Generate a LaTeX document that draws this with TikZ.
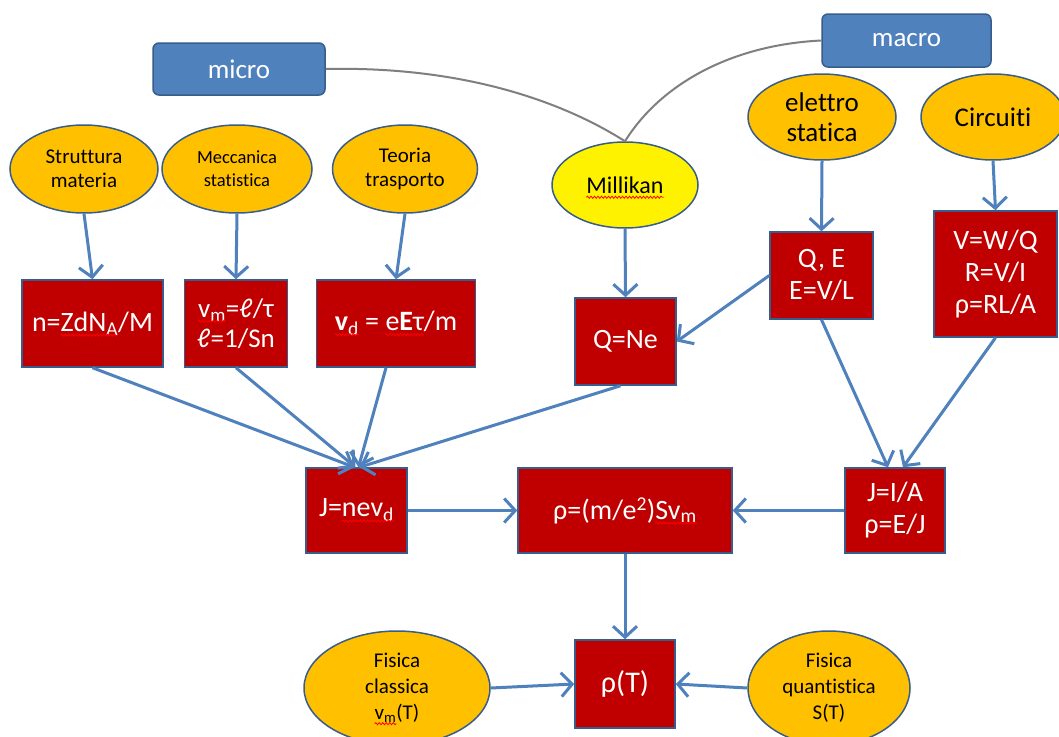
\documentclass[tikz,border=0pt]{standalone}
\usepackage{fontspec}
\setmainfont{Carlito}[Ligatures={NoCommon}]
\usetikzlibrary{arrows.meta,shapes.geometric,decorations.pathmorphing}

\definecolor{boxred}{HTML}{C00000}
\definecolor{edgeblue}{HTML}{385D8A}
\definecolor{arrowblue}{HTML}{4F81BD}
\definecolor{topicorange}{HTML}{FFC000}
\definecolor{curvegray}{HTML}{7F7F7F}

% red wavy underline (spell-check style)
\newdimen\spellw
\newcommand\spellmark[1]{\setbox0=\hbox{#1}\spellw=\wd0\leavevmode\rlap{\usebox0}%
  \tikz[baseline=0pt,x=1pt,y=1pt]{\useasboundingbox (0pt,0pt) rectangle (\spellw,0pt);
    \draw[red,line width=0.8pt,decorate,decoration={snake,amplitude=1pt,segment length=3.5pt}]
      (0pt,-4pt) -- (\spellw,-4pt);}}

\tikzset{
  formula/.style={rectangle, draw=edgeblue, line width=1.5pt, fill=boxred,
    text=white, inner sep=0pt, align=center, font=\fontsize{28}{32}\selectfont},
  topic/.style={ellipse, draw=edgeblue, line width=1.5pt, fill=topicorange,
    text=black, inner sep=0pt, align=center, font=\fontsize{21}{24}\selectfont},
  scalelabel/.style={rectangle, rounded corners=6pt, draw=edgeblue, line width=1.5pt,
    fill=arrowblue, text=white, inner sep=0pt, font=\fontsize{27}{30}\selectfont},
  flow/.style={draw=arrowblue, line width=3pt,
    -{Straight Barb[length=11pt,width=24pt,line width=3pt]}},
  link/.style={draw=curvegray, line width=2pt},
}

\begin{document}
\begin{tikzpicture}[x=1pt,y=-1pt]
\useasboundingbox[fill=white] (0,0) rectangle (1059,736);

% scale labels
\node[scalelabel, minimum width=172pt, minimum height=52pt] (micro) at (239,69) {micro};
\node[scalelabel, minimum width=169pt, minimum height=53pt] (macro) at (906.5,40.5) {macro};

% topics
\node[topic, minimum width=148pt, minimum height=88pt] (strut) at (84,169) {Struttura\\materia};
\node[topic, minimum width=150pt, minimum height=88pt, font=\fontsize{18.5}{23}\selectfont] (mecc) at (237,169) {Meccanica\\statistica};
\node[topic, minimum width=145pt, minimum height=88pt] (teoria) at (405,169) {Teoria\\trasporto};
\node[topic, fill=yellow, minimum width=146pt, minimum height=86pt, font=\fontsize{24}{28}\selectfont] (millikan) at (625,185) {\spellmark{Millikan}};
\node[topic, minimum width=148pt, minimum height=86pt, font=\fontsize{27}{30}\selectfont] (elettro) at (822,117) {elettro\\statica};
\node[topic, minimum width=144pt, minimum height=86pt, font=\fontsize{27}{30}\selectfont] (circuiti) at (993,117) {Circuiti};
\node[topic, minimum width=186pt, minimum height=114pt, font=\fontsize{21}{26}\selectfont] (fclass) at (397,688) {Fisica\\classica\\\spellmark{v\textsubscript{m}}(T)};
\node[topic, minimum width=162pt, minimum height=114pt, font=\fontsize{21}{26}\selectfont] (fquant) at (829,688) {Fisica\\quantistica\\S(T)};

% formulas
\node[formula, minimum width=141pt, minimum height=87pt] (nbox) at (92.5,323.5) {n=\spellmark{ZdN\textsubscript{A}}/M};
\node[formula, minimum width=103pt, minimum height=87pt, font=\fontsize{27}{30}\selectfont] (vmbox) at (236,323.5) {\spellmark{v\textsubscript{m}}=ℓ/τ\\ℓ=1/Sn};
\node[formula, minimum width=159pt, minimum height=87pt] (vdbox) at (396,323.5) {\spellmark{\textbf{v}\textsubscript{d}} = \spellmark{e\textbf{E}τ}/m};
\node[formula, minimum width=101pt, minimum height=87pt] (qne) at (625.5,341.5) {Q=Ne};
\node[formula, minimum width=103pt, minimum height=87pt] (qe) at (821.5,275.5) {Q, E\\E=V/L};
\node[formula, minimum width=123pt, minimum height=126pt] (vwq) at (995.5,274) {V=W/Q\\R=V/I\\ρ=RL/A};
\node[formula, minimum width=101pt, minimum height=85pt] (jnev) at (356.5,510.5) {J=\spellmark{nev\textsubscript{d}}};
\node[formula, minimum width=214pt, minimum height=85pt] (rho) at (625,510.5) {ρ=(m/e\textsuperscript{2})\spellmark{Sv\textsubscript{m}}};
\node[formula, minimum width=100pt, minimum height=85pt] (jia) at (895,510.5) {J=I/A\\ρ=E/J};
\node[formula, minimum width=100pt, minimum height=88pt, font=\fontsize{30}{34}\selectfont] (rhot) at (625,684) {ρ(T)};

% links from the scale labels
\draw[link] (micro.east) .. controls (460,66) and (560,100) .. (millikan.north);
\draw[link] (macro.west) .. controls (730,45) and (660,85) .. (millikan.north);

% flows
\draw[flow] (strut.south) -- (nbox.north);
\draw[flow] (mecc.south) -- (vmbox.north);
\draw[flow] (teoria.south) -- (vdbox.north);
\draw[flow] (millikan.south) -- (qne.north);
\draw[flow] (elettro.south) -- (qe.north);
\draw[flow] (circuiti.south) -- (vwq.north);
\draw[flow] (qe.west) -- (qne.east);
\draw[flow] (nbox.south) -- ([xshift=-2pt]jnev.north);
\draw[flow] (vmbox.south) -- ([xshift=-1pt]jnev.north);
\draw[flow] ([xshift=-10pt]vdbox.south) -- ([xshift=2pt]jnev.north);
\draw[flow] ([xshift=-5pt]qne.south) -- ([xshift=3pt]jnev.north);
\draw[flow] (jnev.east) -- (rho.west);
\draw[flow] (jia.west) -- (rho.east);
\draw[flow] (qe.south) -- ([xshift=-7pt]jia.north);
\draw[flow] (vwq.south) -- ([xshift=8pt]jia.north);
\draw[flow] (rho.south) -- (rhot.north);
\draw[flow] (fclass.east) -- (rhot.west);
\draw[flow] (fquant.west) -- (rhot.east);
\end{tikzpicture}
\end{document}
